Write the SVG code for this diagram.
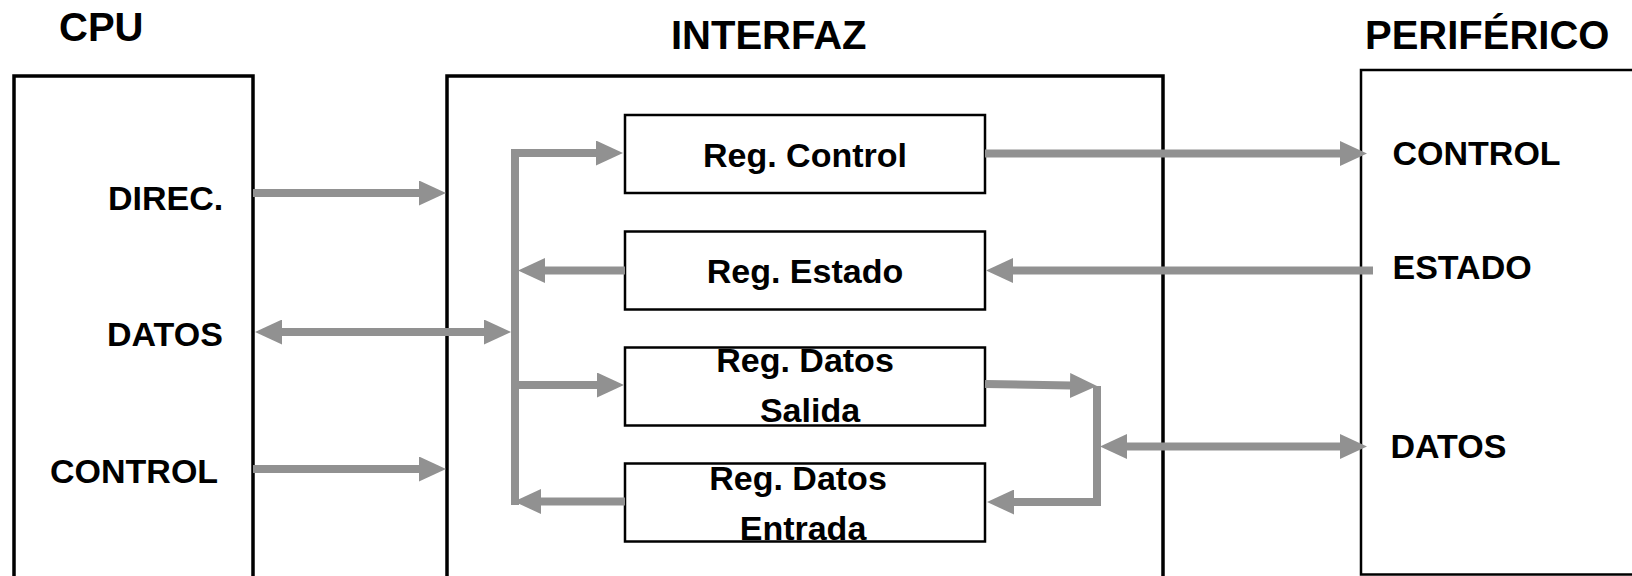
<svg xmlns="http://www.w3.org/2000/svg" width="1632" height="576" viewBox="0 0 1632 576">
<style>
.box{fill:none;stroke:#000;stroke-width:3.5}
.pbox{fill:none;stroke:#000;stroke-width:2.5}
.reg{fill:#fff;stroke:#000;stroke-width:2.5}
.t{font-family:"Liberation Sans",Arial,sans-serif;font-weight:bold;fill:#000}
.title{font-size:40px}
.lbl{font-size:34px}
.c{text-anchor:middle}
.w{fill:none;stroke:#919191;stroke-width:8}
</style>
<defs>
<marker id="ah" viewBox="-1 0 27 25" refX="0" refY="12.5" markerWidth="27" markerHeight="25" markerUnits="userSpaceOnUse" orient="auto-start-reverse">
<path d="M-1,0 L26,12.5 L-1,25 Z" fill="#919191"/>
</marker>
</defs>
<rect width="1632" height="576" fill="#fff"/>

<g id="cpu">
<path class="box" d="M14,580 V76 H253 V580"/>
<text class="t title" x="59" y="41">CPU</text>
<text class="t lbl" x="108" y="210">DIREC.</text>
<text class="t lbl" x="107" y="345.5">DATOS</text>
<text class="t lbl" x="50" y="483">CONTROL</text>
</g>

<g id="interfaz">
<path class="box" d="M447,580 V76 H1163 V580"/>
<text class="t title" x="671" y="48.5">INTERFAZ</text>
</g>

<g id="periferico">
<path class="pbox" d="M1640,70 H1361 V574.5 H1640"/>
<text class="t title" x="1365" y="49">PERIFÉRICO</text>
<text class="t lbl" x="1392.5" y="165">CONTROL</text>
<text class="t lbl" x="1392.5" y="279">ESTADO</text>
<text class="t lbl" x="1390.5" y="458">DATOS</text>
</g>

<g id="reg-control">
<rect class="reg" x="625" y="115" width="360" height="78"/>
<text class="t lbl c" x="805" y="167">Reg. Control</text>
</g>

<g id="reg-estado">
<rect class="reg" x="625" y="231.5" width="360" height="78"/>
<text class="t lbl c" x="805" y="283">Reg. Estado</text>
</g>

<g id="reg-datos-salida">
<rect class="reg" x="625" y="347.5" width="360" height="78"/>
<text class="t lbl c" x="805" y="371.5">Reg. Datos</text>
<text class="t lbl c" x="810" y="421.5">Salida</text>
</g>

<g id="reg-datos-entrada">
<rect class="reg" x="625" y="463.5" width="360" height="78"/>
<text class="t lbl c" x="798" y="489.5">Reg. Datos</text>
<text class="t lbl c" x="803" y="539.5">Entrada</text>
</g>

<g id="connectors">
<path class="w" d="M253,193 H420" marker-end="url(#ah)"/>
<path class="w" d="M281,332 H485" marker-start="url(#ah)" marker-end="url(#ah)"/>
<path class="w" d="M253,469 H420" marker-end="url(#ah)"/>
<path class="w" d="M515,149 V505"/>
<path class="w" d="M511,153 H597" marker-end="url(#ah)"/>
<path class="w" d="M625,270.5 H544" marker-end="url(#ah)"/>
<path class="w" d="M515,385 H598" marker-end="url(#ah)"/>
<path class="w" d="M625,501.5 H540" marker-end="url(#ah)"/>
<path class="w" d="M985,153.5 H1341" marker-end="url(#ah)"/>
<path class="w" d="M1373,270.5 H1012" marker-end="url(#ah)"/>
<path class="w" d="M985,384 L1071,385.5" marker-end="url(#ah)"/>
<path class="w" d="M1097,386 V506"/>
<path class="w" d="M1101,502 H1013" marker-end="url(#ah)"/>
<path class="w" d="M1126,446.5 H1341" marker-start="url(#ah)" marker-end="url(#ah)"/>
</g>
</svg>
